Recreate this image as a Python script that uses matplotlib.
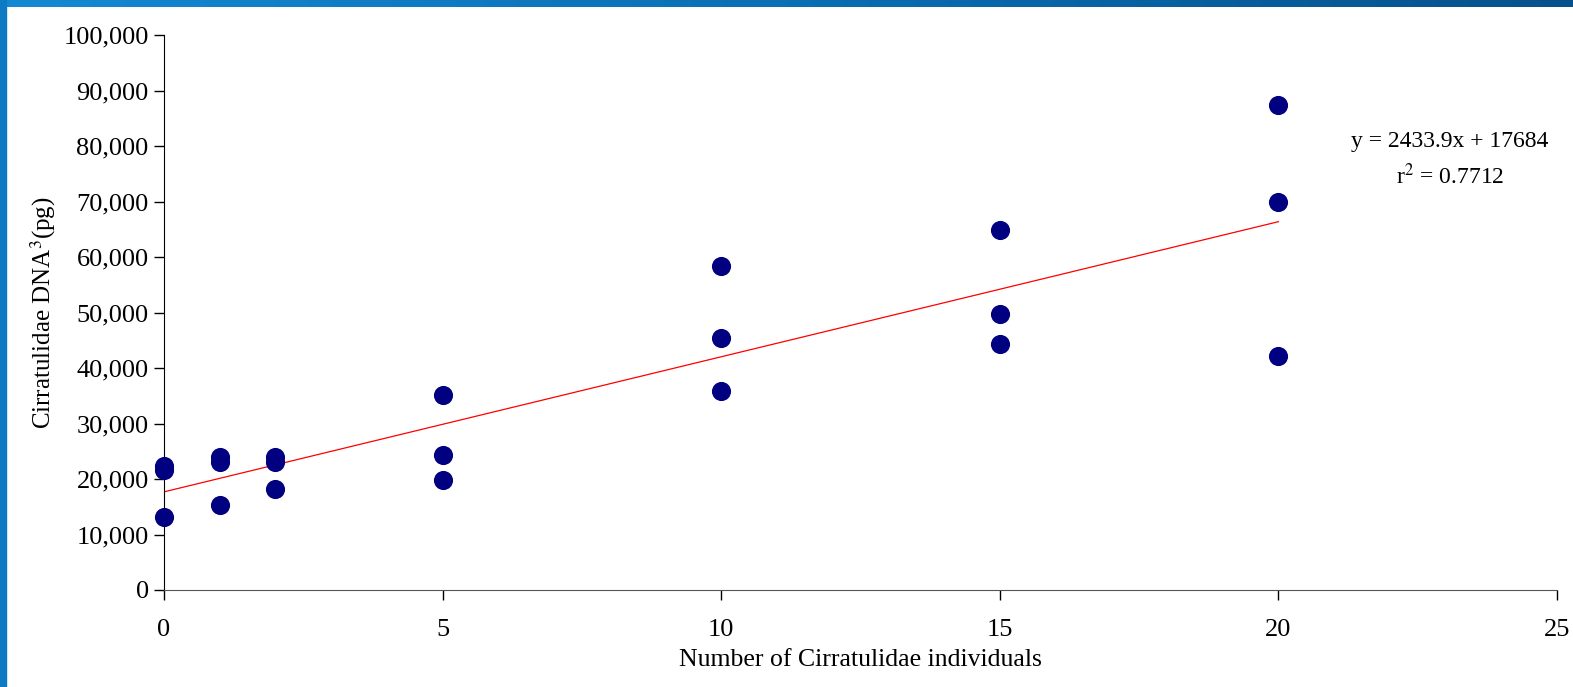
import matplotlib.pyplot as plt
import numpy as np
from matplotlib.colors import LinearSegmentedColormap
from matplotlib.patches import Rectangle
from matplotlib.ticker import FuncFormatter

plt.rcParams['font.family'] = ['Liberation Serif', 'DejaVu Serif']
plt.rcParams['mathtext.fontset'] = 'stix'

# number of individuals per sample and measured DNA
individuals = [0, 0, 0, 1, 1, 1, 2, 2, 2, 5, 5, 5, 10, 10, 10, 15, 15, 15, 20, 20, 20]
dna_pg = [22300, 21700, 13100, 23900, 23100, 15400, 23900, 23000, 18200,
          35100, 24400, 19800, 58300, 45400, 35800, 64800, 49700, 44300,
          87300, 70000, 42200]

slope = 2433.9
intercept = 17684
r_squared = 0.7712

fig = plt.figure(figsize=(15.73, 6.87), dpi=100)

# blue frame along the top and left edge
bar = fig.add_axes([0, 1 - 7 / 687, 1, 7 / 687])
cmap = LinearSegmentedColormap.from_list('bar', ['#1489d3', '#0a6fb4', '#05518c'])
bar.imshow(np.linspace(0, 1, 256)[None, :], aspect='auto', cmap=cmap)
bar.axis('off')
fig.patches.append(Rectangle((0, 0), 6 / 1573, 1, transform=fig.transFigure,
                             color='#0e7ac2', zorder=0))

ax = fig.add_axes([164 / 1573, 1 - 590 / 687, (1557 - 164) / 1573, (590 - 35) / 687])
ax.scatter(individuals, dna_pg, s=190, color='#000080', zorder=3, clip_on=False,
           linewidths=0)

fit_x = np.array([0, 20])
ax.plot(fit_x, slope * fit_x + intercept, color='red', lw=0.9, zorder=2)

ax.set_xlim(0, 25)
ax.set_ylim(0, 100000)
ax.set_xticks(range(0, 26, 5))
ax.set_yticks(range(0, 100001, 10000))
ax.yaxis.set_major_formatter(FuncFormatter(lambda v, p: f'{int(v):,}'))
ax.tick_params(labelsize=19, length=7, width=1, direction='out', pad=4)
ax.tick_params(axis='x', pad=14)

for side in ['top', 'right']:
    ax.spines[side].set_visible(False)
ax.spines['left'].set_color('black')
ax.spines['bottom'].set_color('#555555')

ax.set_xlabel('Number of Cirratulidae individuals', fontsize=18.5, labelpad=6)
ax.set_ylabel('Cirratulidae DNA$^3$(pg)', fontsize=18, labelpad=4)

ax.text(0.923, 0.809, f'y = {slope}x + {intercept}', transform=ax.transAxes,
        fontsize=17, ha='center', va='center')
ax.text(0.923, 0.746, f'r$^2$ = {r_squared}', transform=ax.transAxes,
        fontsize=17, ha='center', va='center')

fig.savefig('out.png', dpi=100)
